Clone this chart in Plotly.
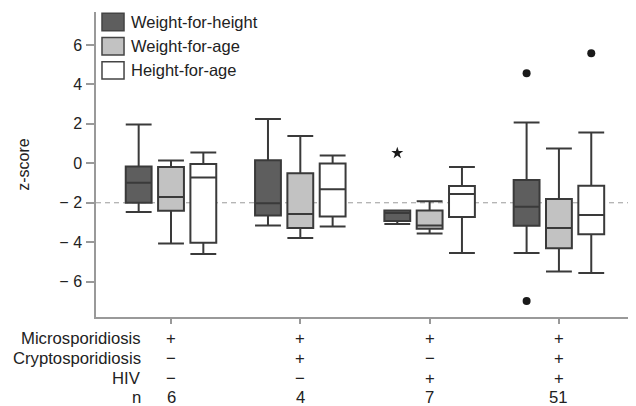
import plotly.graph_objects as go

# ---------------- data ----------------
groups = ["Micro only", "Micro + Crypto", "Micro + HIV", "Micro + Crypto + HIV"]
row_labels = ["Microsporidiosis", "Cryptosporidiosis", "HIV", "n"]
row_micro = ["+", "+", "+", "+"]
row_crypto = ["\u2212", "+", "\u2212", "+"]
row_hiv = ["\u2212", "\u2212", "+", "+"]
row_n = ["6", "4", "7", "51"]

series = ["Weight-for-height", "Weight-for-age", "Height-for-age"]

wfh_low = [-2.47, -3.15, -3.08, -4.55]
wfh_q1 = [-2.00, -2.64, -2.92, -3.16]
wfh_med = [-0.99, -2.03, -2.52, -2.20]
wfh_q3 = [-0.16, 0.16, -2.39, -0.85]
wfh_high = [1.97, 2.24, -2.39, 2.07]

wfa_low = [-4.06, -3.79, -3.56, -5.48]
wfa_q1 = [-2.40, -3.28, -3.32, -4.31]
wfa_med = [-1.71, -2.57, -3.15, -3.28]
wfa_q3 = [-0.19, -0.50, -2.39, -1.81]
wfa_high = [0.14, 1.39, -1.92, 0.75]

hfa_low = [-4.60, -3.20, -4.55, -5.56]
hfa_q1 = [-4.03, -2.69, -2.72, -3.59]
hfa_med = [-0.72, -1.31, -1.56, -2.62]
hfa_q3 = [-0.04, -0.01, -1.15, -1.14]
hfa_high = [0.55, 0.39, -0.19, 1.56]

# outliers (circles) and extreme values (star)
outlier_series = ["Weight-for-height", "Weight-for-height", "Height-for-age"]
outlier_group = [3, 3, 3]
outlier_value = [4.57, -6.98, 5.58]
extreme_series = ["Weight-for-height"]
extreme_group = [2]
extreme_value = [0.52]

y_ticks = [-6, -4, -2, 0, 2, 4, 6]
y_ticktext = ["\u2212 6", "\u2212 4", "\u2212 2", "0", "2", "4", "6"]
ref_line = -2

# ---------------- styles ----------------
FONT = "Liberation Sans, Arial, sans-serif"
TXT = "#222222"
AX = "#999999"
fills = {"Weight-for-height": "#5e5e5e", "Weight-for-age": "#c2c2c2", "Height-for-age": "#ffffff"}
offsets = {"Weight-for-height": -0.25, "Weight-for-age": 0.0, "Height-for-age": 0.25}
BOX_W = 0.2

stats = {
    "Weight-for-height": (wfh_low, wfh_q1, wfh_med, wfh_q3, wfh_high),
    "Weight-for-age": (wfa_low, wfa_q1, wfa_med, wfa_q3, wfa_high),
    "Height-for-age": (hfa_low, hfa_q1, hfa_med, hfa_q3, hfa_high),
}

fig = go.Figure()
for s in series:
    lo, q1, med, q3, hi = stats[s]
    fig.add_trace(go.Box(
        name=s,
        x=[i + offsets[s] for i in range(len(groups))],
        lowerfence=lo, q1=q1, median=med, q3=q3, upperfence=hi,
        width=BOX_W, whiskerwidth=1,
        fillcolor=fills[s],
        line=dict(color="#3a3a3a", width=2),
        boxpoints=False, showlegend=False,
    ))

fig.add_trace(go.Scatter(
    x=[g + offsets[s] for g, s in zip(outlier_group, outlier_series)],
    y=outlier_value, mode="markers",
    marker=dict(symbol="circle", size=8, color="#1a1a1a"),
    showlegend=False, hoverinfo="y",
))
fig.add_trace(go.Scatter(
    x=[g + offsets[s] for g, s in zip(extreme_group, extreme_series)],
    y=extreme_value, mode="markers",
    marker=dict(symbol="star", size=9, color="#1a1a1a"),
    showlegend=False, hoverinfo="y",
))

# dashed reference line
fig.add_shape(type="line", xref="paper", x0=0, x1=1, yref="y", y0=ref_line, y1=ref_line,
              line=dict(color="#9a9a9a", width=1, dash="5px,4px"), layer="below")

# ---------------- manual legend ----------------
leg_rows = [(0.9387, 0.9957), (0.859, 0.916), (0.780, 0.837)]
for s, (y0, y1) in zip(series, leg_rows):
    fig.add_shape(type="rect", xref="paper", yref="paper", x0=0.0111, x1=0.0519, y0=y0, y1=y1,
                  fillcolor=fills[s], line=dict(color="#444444", width=1.5))
    fig.add_annotation(xref="paper", yref="paper", x=0.061, y=(y0 + y1) / 2, text=s,
                       showarrow=False, xanchor="left", yanchor="middle",
                       font=dict(family=FONT, size=16.5, color=TXT))

# ---------------- table below the axis ----------------
rows = [row_micro, row_crypto, row_hiv, row_n]
row_shift = [-21, -41, -61.5, -80.5]  # pixels below the plot bottom
for lab, vals, dy in zip(row_labels, rows, row_shift):
    fig.add_annotation(xref="paper", yref="paper", x=0.0846, y=0, yshift=dy, text=lab,
                       showarrow=False, xanchor="right", yanchor="middle", borderpad=0,
                       font=dict(family=FONT, size=16.7, color=TXT))
    for i, v in enumerate(vals):
        fig.add_annotation(xref="x", yref="paper", x=i, y=0, yshift=dy, text=v,
                           showarrow=False, xanchor="center", yanchor="middle", borderpad=0,
                           font=dict(family=FONT, size=16.7, color=TXT))

fig.update_layout(
    template="none",
    width=628, height=398,
    margin=dict(l=88, r=0, t=4, b=89, autoexpand=False),
    paper_bgcolor="white", plot_bgcolor="white",
    boxmode="overlay",
    font=dict(family=FONT, size=16, color=TXT),
    xaxis=dict(range=[-0.58, 3.596], tickvals=list(range(len(groups))),
               ticktext=["" for _ in groups], ticks="outside", ticklen=5,
               tickcolor=AX, tickwidth=1.5, showline=True, linecolor=AX, linewidth=1.5,
               showgrid=False, zeroline=False, automargin=False),
    yaxis=dict(range=[-7.79, 7.67], tickvals=y_ticks, ticktext=y_ticktext,
               ticks="outside", ticklen=8, tickcolor=AX, tickwidth=1.5,
               showline=True, linecolor=AX, linewidth=1.5, showgrid=False, zeroline=False,
               automargin=False, ticklabelstandoff=1,
               tickfont=dict(family=FONT, size=16, color=TXT),
               title=dict(text="z-score", standoff=26,
                          font=dict(family=FONT, size=16, color=TXT))),
)

fig.write_html("out.html")
